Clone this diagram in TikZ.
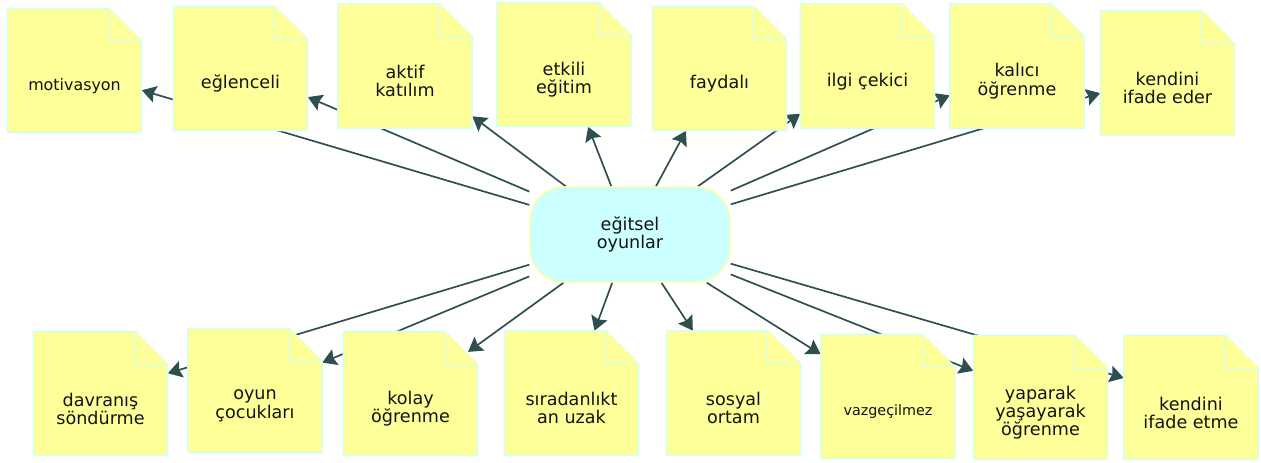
\documentclass[tikz,border=0pt]{standalone}
\usepackage{fontspec}
\setmainfont{DejaVu Sans}
\usetikzlibrary{arrows.meta}
\pgfdeclarelayer{background}
\pgfsetlayers{background,main}

\definecolor{notefill}{HTML}{FFFF99}
\definecolor{noteline}{HTML}{CCFFFF}
\definecolor{hubfill}{HTML}{CCFFFF}
\definecolor{hubline}{HTML}{FFFF99}
\definecolor{linkcol}{HTML}{2F4F4F}
\definecolor{textdark}{HTML}{141414}

\tikzstyle{note} = [rectangle, minimum width=3.35cm, minimum height=3.1cm, inner sep=0pt]
\tikzstyle{noteedge} = [fill=notefill, draw=noteline, line width=0.8pt, line join=round]
\tikzstyle{notetext} = [text centered, align=center, inner sep=0pt, text=textdark, font=\fontsize{12.5}{13}\selectfont]
\tikzstyle{smalltext} = [font=\fontsize{11.3}{12}\selectfont]
\tikzstyle{tinytext} = [font=\fontsize{10.2}{11}\selectfont]
\tikzstyle{hub} = [rectangle, rounded corners=0.85cm, minimum width=5cm, minimum height=2.375cm, fill=hubfill, draw=hubline, line width=1pt, text centered, align=center, text=textdark, font=\fontsize{12.5}{13}\selectfont]
\tikzstyle{arrow} = [line width=1.2pt, draw=linkcol, ->, >={Stealth[length=10pt, width=12pt, inset=1.5pt]}]

\newcommand{\foldsize}{0.825cm}
% note with folded corner: name, position, text, extra text style
\newcommand{\notecard}[4]{%
  \node[note] (#1) at #2 {};
  \filldraw[noteedge] (#1.north west) -- ([xshift=-\foldsize]#1.north east) -- ([yshift=-\foldsize]#1.north east) -- (#1.south east) -- (#1.south west) -- cycle;
  \draw[noteedge] ([xshift=-\foldsize]#1.north east) |- ([yshift=-\foldsize]#1.north east);
  \node[notetext, #4] (#1-text) at ([yshift=-0.38cm]#1.center) {#3};
}

\begin{document}
\begin{tikzpicture}[x=0.025cm, y=-0.025cm]
  \useasboundingbox (0,0) rectangle (1261,462);

  \node (hub) [hub] at (630,234.5) {eğitsel\\oyunlar};

  % upper row
  \notecard{motiv}{(74.5,70.5)}{motivasyon}{smalltext}
  \notecard{eglen}{(240.5,68.5)}{eğlenceli}{}
  \notecard{aktif}{(405,66)}{aktif\\katılım}{}
  \notecard{etkili}{(564,64.5)}{etkili\\eğitim}{}
  \notecard{faydali}{(719.5,68.5)}{faydalı}{}
  \notecard{ilgi}{(867.5,66)}{ilgi çekici}{}
  \notecard{kalici}{(1017,66)}{kalıcı\\öğrenme}{}
  \notecard{ifadeeder}{(1167.5,73)}{kendini\\ifade eder}{}

  % lower row
  \notecard{davranis}{(100.5,393.5)}{davranış\\söndürme}{}
  \notecard{oyun}{(255,390.5)}{oyun\\çocukları}{}
  \notecard{kolay}{(410.5,393.5)}{kolay\\öğrenme}{}
  \notecard{siradan}{(571.5,393)}{sıradanlıkt\\an uzak}{}
  \notecard{sosyal}{(733.5,393)}{sosyal\\ortam}{}
  \notecard{vazgec}{(888,396.5)}{vazgeçilmez}{tinytext}
  \notecard{yaparak}{(1040.5,397.5)}{yaparak\\yaşayarak\\öğrenme}{}
  \notecard{ifadeetme}{(1191,397.5)}{kendini\\ifade etme}{}

  \begin{pgfonlayer}{background}
    \draw [arrow] (hub) -- (motiv);
    \draw [arrow] (hub) -- (eglen);
    \draw [arrow] (hub) -- (aktif);
    \draw [arrow] (hub) -- (etkili);
    \draw [arrow] (hub) -- (faydali);
    \draw [arrow] (hub) -- (ilgi);
    \draw [arrow] (hub) -- (kalici);
    \draw [arrow] (hub) -- (ifadeeder);
    \draw [arrow] (hub) -- (davranis);
    \draw [arrow] (hub) -- (oyun);
    \draw [arrow, shorten >=-0.3cm] (hub) -- (kolay);
    \draw [arrow] (hub) -- (siradan);
    \draw [arrow] (hub) -- (sosyal);
    \draw [arrow] (hub) -- (vazgec);
    \draw [arrow] (hub) -- (yaparak);
    \draw [arrow] (hub) -- (ifadeetme);
  \end{pgfonlayer}
\end{tikzpicture}
\end{document}
